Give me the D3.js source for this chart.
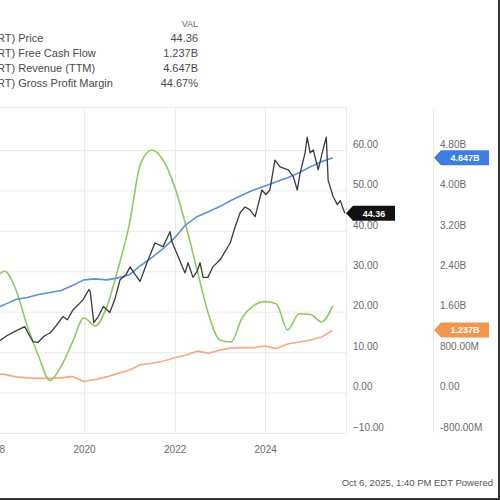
<!DOCTYPE html>
<html>
<head>
<meta charset="utf-8">
<script src="https://cdnjs.cloudflare.com/ajax/libs/d3/7.8.5/d3.min.js"></script>
<style>
  body { margin: 0; background: #fff; }
  svg { display: block; font-family: "Liberation Sans", Arial, sans-serif; }
  .grid line { stroke: #ebebeb; stroke-width: 1; }
  .tick text { fill: #6a6a6a; font-size: 10px; }
</style>
</head>
<body>
<div id="chart"></div>
<script>
// legend rows
var legendNames = ["RT) Price", "RT) Free Cash Flow", "RT) Revenue (TTM)", "RT) Gross Profit Margin"];
var legendValues = ["44.36", "1.237B", "4.647B", "44.67%"];

// daily price
var priceDates = ["2018-01-02","2018-02-01","2018-04-15","2018-06-15","2018-09-10","2018-10-20","2018-11-15","2018-12-24",
  "2019-02-15","2019-04-05","2019-05-20","2019-07-15","2019-08-20","2019-10-05","2019-11-15","2019-12-24",
  "2020-02-10","2020-02-20","2020-03-20","2020-04-25","2020-06-05","2020-07-27","2020-09-05","2020-10-18","2020-12-01",
  "2021-01-07","2021-02-17","2021-03-28","2021-05-23","2021-07-26","2021-09-30","2021-11-25","2021-12-10",
  "2022-01-30","2022-03-04","2022-03-26","2022-04-19","2022-05-29","2022-07-01","2022-07-25","2022-08-19","2022-09-26","2022-11-06",
  "2023-01-04","2023-03-25","2023-05-04","2023-06-13","2023-07-23","2023-09-01","2023-10-12","2023-12-06",
  "2024-01-07","2024-02-08","2024-03-20","2024-04-30","2024-07-05","2024-08-14","2024-09-16","2024-10-09","2024-11-18","2024-12-05","2024-12-29",
  "2025-01-23","2025-03-04","2025-04-05","2025-05-08","2025-05-23","2025-07-02","2025-08-05","2025-08-29","2025-09-20","2025-10-06"];
var priceValues = [13, 12.4, 14, 15, 16.3, 14, 12.6, 12.4,
  14, 14.8, 16.5, 18.8, 18, 20.5, 21.7, 23,
  25.5, 25, 17.3, 18.8, 21.3, 19.8, 23, 27.9, 29,
  31.1, 29.2, 27.5, 32.1, 37, 36.1, 39.8, 37.3,
  33.6, 31.1, 29.6, 32.1, 28.5, 30, 32.1, 28.5, 28.5, 31.1,
  32.9, 37, 41, 44.5, 45.9, 45.2, 43.5, 50.1,
  49, 50.1, 57.5, 55.8, 55.1, 53.5, 50.1, 54.3, 59.3, 63.2, 59.3,
  60, 55.1, 59.3, 63.2, 52.5, 48.5, 46.5, 47.5, 45.5, 44.36];

// quarterly series
var quarterDates = ["2017-12-31","2018-03-31","2018-06-30","2018-09-30","2018-12-31","2019-03-31","2019-06-30","2019-09-30",
  "2019-12-31","2020-03-31","2020-06-30","2020-09-30","2020-12-31","2021-03-31","2021-06-30","2021-09-30",
  "2021-12-31","2022-03-31","2022-06-30","2022-09-30","2022-12-31","2023-03-31","2023-06-30","2023-09-30",
  "2023-12-31","2024-03-31","2024-06-30","2024-09-30","2024-12-31","2025-03-31","2025-06-30"];
var revenueValues = [1.66, 1.74, 1.84, 1.88, 1.94, 1.98, 2.02, 2.12, 2.23, 2.25, 2.23, 2.27, 2.33, 2.51, 2.67, 2.85,
  3.06, 3.32, 3.48, 3.58, 3.68, 3.80, 3.91, 4.01, 4.09, 4.17, 4.25, 4.35, 4.47, 4.57, 4.647];
var fcfValues = [0.37, 0.36, 0.31, 0.29, 0.28, 0.28, 0.29, 0.32, 0.22, 0.26, 0.31, 0.38, 0.44, 0.55, 0.58, 0.62,
  0.69, 0.74, 0.82, 0.78, 0.84, 0.88, 0.89, 0.89, 0.92, 0.87, 0.96, 1.00, 1.04, 1.10, 1.237];
var marginValues = [27.5, 30, 25.5, 16.5, 9, 3, 6.5, 12.5, 18.5, 16.5, 21, 30.5, 41.5, 56.5, 60, 57.5,
  51, 41.5, 30.5, 19.5, 13, 12.5, 18.5, 21.5, 22.5, 22, 15.5, 19.5, 19.3, 17.5, 21.5];

// axis ticks
var leftTicks = [-10, 0, 10, 20, 30, 40, 50, 60];
var rightTicks = [-0.8, 0, 0.8, 1.6, 2.4, 3.2, 4.0, 4.8];
var rightTickLabels = ["-800.00M", "0.00", "800.00M", "1.60B", "2.40B", "3.20B", "4.00B", "4.80B"];
var yearTicks = ["2018", "2020", "2022", "2024"];

var width = 500, height = 500;
var plotTop = 107, plotBottom = 433, plotRight = 346, axisSplit = 433;
var parse = d3.timeParse("%Y-%m-%d");

var svg = d3.select("#chart").append("svg")
  .attr("width", width)
  .attr("height", height);

var x = d3.scaleTime()
  .domain([new Date(2018, 0, 1), new Date(2025, 9, 6)])
  .range([-6.5, 345]);
var yLeft = d3.scaleLinear().domain([-10, 60]).range([plotBottom, 150]);
var yRight = d3.scaleLinear().domain([-0.8, 4.8]).range([plotBottom, 150]);

// gridlines
var grid = svg.append("g").attr("class", "grid");
grid.selectAll(".h").data(leftTicks).enter().append("line")
  .attr("x1", 0).attr("x2", plotRight)
  .attr("y1", d => yLeft(d) + 0.5).attr("y2", d => yLeft(d) + 0.5);
grid.selectAll(".v").data(yearTicks).enter().append("line")
  .attr("x1", d => Math.round(x(new Date(+d, 0, 1))) + 0.5)
  .attr("x2", d => Math.round(x(new Date(+d, 0, 1))) + 0.5)
  .attr("y1", plotTop).attr("y2", plotBottom);
grid.append("line").attr("x1", 0).attr("x2", plotRight).attr("y1", plotTop + 0.5).attr("y2", plotTop + 0.5);
grid.append("line").attr("x1", plotRight + 0.5).attr("x2", plotRight + 0.5).attr("y1", plotTop).attr("y2", plotBottom);
grid.append("line").attr("x1", axisSplit + 0.5).attr("x2", axisSplit + 0.5).attr("y1", plotTop).attr("y2", plotBottom);

// axes
var leftAxis = svg.append("g")
  .attr("transform", `translate(${plotRight + 7}, -6)`)
  .call(d3.axisRight(yLeft).tickValues(leftTicks).tickSize(0).tickFormat(d3.format(".2f")));
var rightAxis = svg.append("g")
  .attr("transform", `translate(${axisSplit + 7}, -6)`)
  .call(d3.axisRight(yRight).tickValues(rightTicks).tickSize(0).tickFormat((d, i) => rightTickLabels[i]));
var xAxis = svg.append("g")
  .attr("transform", `translate(0, ${plotBottom + 10})`)
  .call(d3.axisBottom(x).tickValues(yearTicks.map(d => new Date(+d, 0, 1))).tickSize(0).tickFormat(d3.timeFormat("%Y")));
[leftAxis, rightAxis, xAxis].forEach(a => a.select(".domain").remove());
leftAxis.selectAll("text").attr("x", 0);
rightAxis.selectAll("text").attr("x", 0);

// lines
svg.append("clipPath").attr("id", "plot")
  .append("rect").attr("x", -10).attr("y", plotTop).attr("width", plotRight + 10).attr("height", plotBottom - plotTop);
var lines = svg.append("g").attr("clip-path", "url(#plot)");

var qDates = quarterDates.map(parse);
function drawLine(dates, values, yScale, color, w, curve) {
  var line = d3.line()
    .x((d, i) => x(dates[i]))
    .y(d => yScale(d))
    .curve(curve || d3.curveLinear);
  lines.append("path")
    .datum(values)
    .attr("fill", "none")
    .attr("stroke", color)
    .attr("stroke-width", w)
    .attr("stroke-linejoin", "round")
    .attr("d", line);
}
drawLine(qDates, fcfValues, yRight, "#f8a883", 1.6);
drawLine(qDates, marginValues, yLeft, "#93c95c", 1.6, d3.curveMonotoneX);
drawLine(qDates, revenueValues, yRight, "#5b8fe0", 1.6);
drawLine(priceDates.map(parse), priceValues, yLeft, "#3a3a3a", 1.3);

// end-of-line tags
function tag(x0, yc, w, color, label) {
  svg.append("path")
    .attr("d", `M${x0},${yc} L${x0 + 7},${yc - 7.5} L${x0 + w},${yc - 7.5} L${x0 + w},${yc + 7.5} L${x0 + 7},${yc + 7.5} Z`)
    .attr("fill", color);
  svg.append("text")
    .attr("x", x0 + 7 + (w - 7) / 2)
    .attr("y", yc + 3.3)
    .attr("text-anchor", "middle")
    .attr("fill", "#fff")
    .attr("font-size", "9px")
    .attr("font-weight", "bold")
    .text(label);
}
tag(plotRight, yLeft(priceValues[priceValues.length - 1]), 49, "#111", legendValues[0]);
tag(axisSplit + 1, yRight(revenueValues[revenueValues.length - 1]), 55, "#3f7ddf", legendValues[2]);
tag(axisSplit + 1, yRight(fcfValues[fcfValues.length - 1]), 55, "#f5954d", legendValues[1]);

// legend
var legend = svg.append("g").attr("font-size", "11px").attr("fill", "#4a4a4a");
legend.append("text").attr("x", 198).attr("y", 26.5).attr("text-anchor", "end").attr("font-size", "9px").attr("fill", "#666").text("VAL");
legendNames.forEach(function(name, i) {
  legend.append("text").attr("x", -3).attr("y", 41.5 + i * 15).text(name);
  legend.append("text").attr("x", 198).attr("y", 41.5 + i * 15).attr("text-anchor", "end").text(legendValues[i]);
});

// footer
svg.append("text")
  .attr("x", 493).attr("y", 486)
  .attr("text-anchor", "end")
  .attr("font-size", "9.5px")
  .attr("fill", "#555")
  .text("Oct 6, 2025, 1:40 PM EDT Powered");

// frame on right and bottom
svg.append("rect").attr("x", 498).attr("y", 0).attr("width", 2).attr("height", 500).attr("fill", "#333");
svg.append("rect").attr("x", 0).attr("y", 498).attr("width", 500).attr("height", 2).attr("fill", "#333");
</script>
</body>
</html>
